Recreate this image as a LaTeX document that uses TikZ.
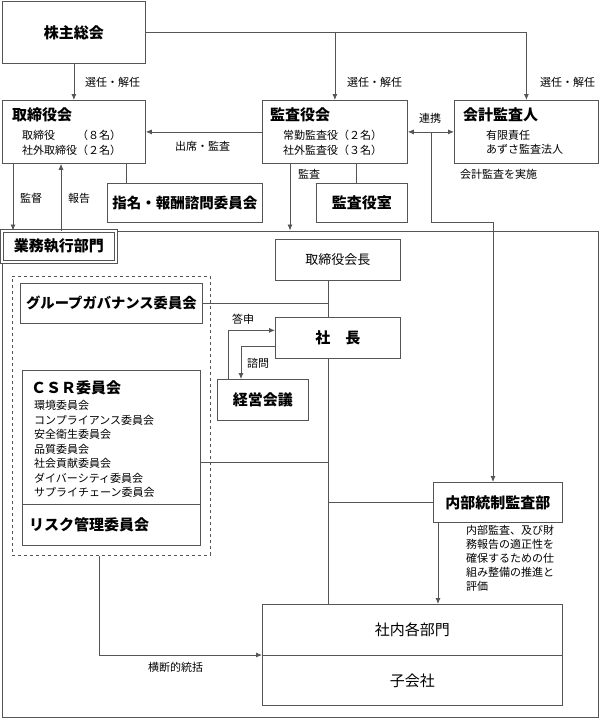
\documentclass[tikz,border=0pt]{standalone}
\usepackage{fontspec}
\setmainfont{Noto Sans CJK JP}
\usetikzlibrary{arrows.meta,positioning,calc}
\definecolor{linegray}{RGB}{85,85,85}
\newcommand{\bigfont}{\fontsize{15}{18}\selectfont\bfseries}
\newcommand{\plainfont}{\fontsize{15}{18}\selectfont}
\newcommand{\midfont}{\fontsize{13}{16}\selectfont}
\newcommand{\smallfont}{\fontsize{11}{14.5}\selectfont}

\begin{document}
\begin{tikzpicture}[x=1pt,y=-1pt,
  box/.style={draw=linegray, line width=0.8pt, fill=white, rectangle,
    inner sep=0pt, anchor=north west},
  txt/.style={inner sep=0pt, anchor=west, font=\smallfont},
  conn/.style={draw=linegray, line width=0.8pt},
  arr/.style={conn, -{Latex[length=6pt,width=5pt]}}]

\useasboundingbox (0,0) rectangle (599,718);

% business execution frame
\node[box, minimum width=596, minimum height=486] (gyomu) at (1.5,230.5) {};
\node[box, double, double distance=1.6pt, minimum width=114, minimum height=31,
  font=\bigfont] (gyomulabel) at (1.5,230.5) {業務執行部門};

% governance level
\node[box, minimum width=143, minimum height=62, font=\bigfont] (agm)
  at (2,1) {株主総会};
\node[box, minimum width=143, minimum height=63] (board) at (2,100) {};
\node[box, minimum width=145, minimum height=63] (kansa) at (262,100) {};
\node[box, minimum width=144, minimum height=63] (kaikei) at (454,100) {};

\node[txt, font=\bigfont] (boardtitle) at (12,115) {取締役会};
\node[txt, anchor=north west, align=left] (boardsub)
  at (22,130) {取締役　　（８名）\\社外取締役（２名）};
\node[txt, font=\bigfont] (kansatitle) at (270,115) {監査役会};
\node[txt, anchor=north west, align=left] (kansasub)
  at (283,130) {常勤監査役（２名）\\社外監査役（３名）};
\node[txt, font=\bigfont] (kaikeititle) at (463,115) {会計監査人};
\node[txt, anchor=north west, align=left] (kaikeisub)
  at (486,130) {有限責任\\あずさ監査法人};

\node[box, minimum width=155, minimum height=39, font=\fontsize{14.5}{17}\selectfont\bfseries]
  (shimei) at (107,183) {指名・報酬諮問委員会};
\node[box, minimum width=91, minimum height=39, font=\bigfont]
  (shitsu) at (316,183) {監査役室};

% execution level
\node[box, minimum width=125, minimum height=41, font=\midfont]
  (kaicho) at (275,239) {取締役会長};
\node[box, minimum width=125, minimum height=41, font=\bigfont]
  (shacho) at (275,317) {社　長};
\node[box, minimum width=91, minimum height=41, font=\bigfont]
  (keiei) at (217,379) {経営会議};

\node[box, draw=linegray, dashed, fill=none, minimum width=198, minimum height=279]
  (cmtframe) at (12,276) {};
\node[box, minimum width=182, minimum height=40, font=\fontsize{14.3}{17}\selectfont\bfseries]
  (gov) at (20,283) {グループガバナンス委員会};
\node[box, minimum width=178, minimum height=134] (csr) at (22,370) {};
\node[box, minimum width=178, minimum height=41] (risk) at (22,504) {};
\node[txt, font=\bigfont] (csrtitle) at (31,388) {ＣＳＲ委員会};
\node[txt, anchor=north west, align=left] (csrlist) at (34,400.5)
  {環境委員会\\コンプライアンス委員会\\安全衛生委員会\\品質委員会\\
   社会貢献委員会\\ダイバーシティ委員会\\サプライチェーン委員会};
\node[txt, font=\bigfont] (risktitle) at (29,525) {リスク管理委員会};

\node[box, minimum width=129, minimum height=40, font=\bigfont]
  (naibu) at (433,482) {内部統制監査部};
\node[txt, anchor=north west, align=left, font=\fontsize{11}{14}\selectfont]
  (naibusub) at (466,525.5)
  {内部監査、及び財\\務報告の適正性を\\確保するための仕\\組み整備の推進と\\評価};

\node[box, minimum width=300, minimum height=51, font=\plainfont]
  (bumon) at (262,604) {社内各部門};
\node[box, minimum width=300, minimum height=50, font=\plainfont]
  (kogaisha) at (262,655) {子会社};

% connectors
\draw[arr] (agm.south) -- (board.north);
\draw[arr] (agm.east) -| (kansa.north);
\draw[arr] (agm.east) -| (kaikei.north);
\draw[arr] (kansa.west) -- (board.east);
\draw[conn, {Latex[length=6pt,width=5pt]}-{Latex[length=6pt,width=5pt]}]
  (kansa.east) -- (kaikei.west);

\coordinate (renkei) at ($(kansa.east)!0.5!(kaikei.west)$);
\coordinate (bend) at (493,222);
\draw[arr] (renkei) |- (bend) -- (bend |- naibu.north);

\coordinate (supv) at ($(board.south west)+(11,0)$);
\draw[arr] (supv) -- (supv |- gyomu.north);
\coordinate (rept) at ($(board.south west)+(59,0)$);
\draw[arr] (rept |- gyomu.north) -- (rept);
\coordinate (nom) at ($(board.south west)+(124,0)$);
\draw[conn] (nom) -- (nom |- shimei.north);
\coordinate (audit) at ($(kansa.south west)+(28,0)$);
\draw[arr] (audit) -- (audit |- gyomu.north);
\coordinate (staff) at ($(kansa.south west)+(94,0)$);
\draw[conn] (staff) -- (staff |- shitsu.north);

\coordinate (trunk) at (328,0);
\draw[conn] (kaicho.south -| trunk) -- (shacho.north -| trunk);
\draw[conn] (shacho.south -| trunk) -- (bumon.north -| trunk);
\draw[conn] (gov.east) -- (gov.east -| trunk);
\coordinate (csrlink) at ($(csr.north east)+(0,92)$);
\draw[conn] (csrlink) -- (csrlink -| trunk);
\draw[conn] (naibu.west) -- (naibu.west -| trunk);

\coordinate (toshin) at ($(keiei.north west)+(11,0)$);
\draw[arr] (toshin) |- ($(shacho.west)+(0,-7.5)$);
\draw[arr] ($(shacho.west)+(0,8.5)$) -| ($(keiei.north west)+(24,0)$);

\coordinate (ctrl) at ($(naibu.south west)+(5,0)$);
\draw[arr] (ctrl) -- (ctrl |- bumon.north);
\coordinate (cross) at ($(cmtframe.south west)+(87,0)$);
\draw[arr] (cross) |- (kogaisha.north west);

% connector labels
\node[txt] (sennin1) at (85,82) {選任・解任};
\node[txt] (sennin2) at (347,82) {選任・解任};
\node[txt] (sennin3) at (540,82) {選任・解任};
\node[txt] (shusseki) at (175,146) {出席・監査};
\node[txt, anchor=center] (renkeilabel) at (430,118) {連携};
\node[txt] (jisshi) at (460,174) {会計監査を実施};
\node[txt] (kantoku) at (20,198) {監督};
\node[txt] (hokoku) at (68,198) {報告};
\node[txt] (kansalabel) at (298,174) {監査};
\node[txt] (toshinlabel) at (232,319) {答申};
\node[txt] (shimonlabel) at (247,363) {諮問};
\node[txt] (oudan) at (148,667) {横断的統括};

\end{tikzpicture}
\end{document}
